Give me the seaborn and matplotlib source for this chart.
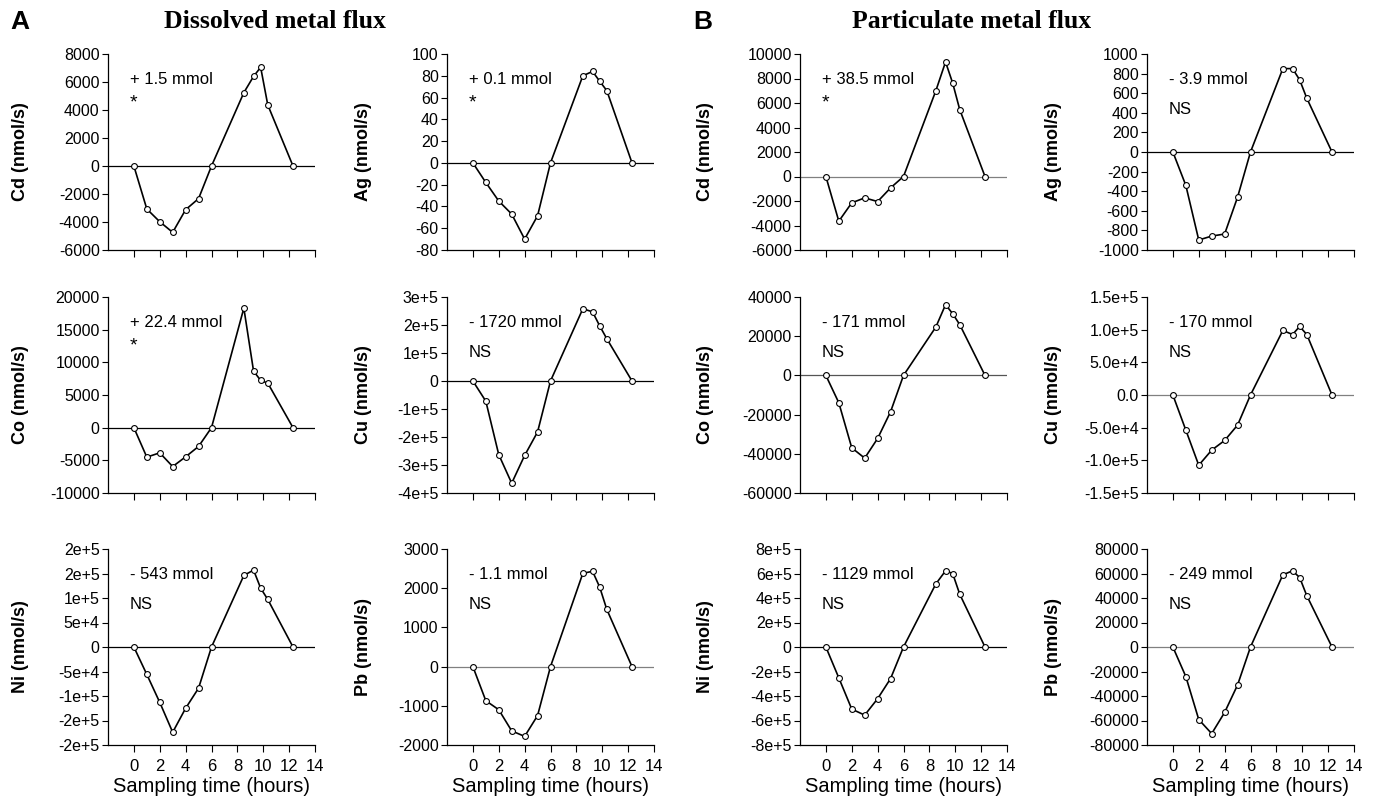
#%% imports
import matplotlib
matplotlib.use("Agg")
import matplotlib.pyplot as plt
import seaborn as sns

#%% dados
horas = [0, 1, 2, 3, 4, 5, 6, 8.5, 9.25, 9.8, 10.35, 12.3]

# dissolvido
cd_dis = [0, -3070, -3980, -4740, -3120, -2330, 0, 5240, 6400, 7050, 4360, 0]
ag_dis = [0, -18, -35, -47, -70, -48.6, 0, 80, 84, 75, 66.4, 0]
co_dis = [0, -4510, -3850, -5950, -4460, -2870, 0, 18300, 8670, 7230, 6820, 0]
cu_dis = [0, -72000, -263000, -365000, -266000, -182000, 0, 258000, 247000, 197000, 151000, 0]
ni_dis = [0, -56000, -113000, -174000, -125000, -84000, 0, 146000, 157000, 120000, 97000, 0]
pb_dis = [0, -870, -1100, -1640, -1780, -1250, 0, 2380, 2430, 2030, 1460, 0]

# particulado
cd_part = [0, -3650, -2150, -1745, -2045, -930, 0, 7000, 9350, 7630, 5450, 0]
ag_part = [0, -340, -898, -858, -837, -461, 0, 851, 851, 736, 549, 0]
co_part = [0, -13960, -36940, -42210, -32170, -18550, 0, 24680, 36080, 31490, 25870, 0]
cu_part = [0, -53700, -107500, -84400, -69600, -46100, 0, 98800, 92600, 104900, 92600, 0]
ni_part = [0, -252000, -507000, -556000, -422000, -258000, 0, 515000, 622000, 600000, 430000, 0]
pb_part = [0, -24100, -59200, -70700, -53400, -31000, 0, 58900, 62200, 56700, 41900, 0]

metais = ['Cd', 'Ag', 'Cd', 'Ag',
          'Co', 'Cu', 'Co', 'Cu',
          'Ni', 'Pb', 'Ni', 'Pb']
series = [cd_dis, ag_dis, cd_part, ag_part,
          co_dis, cu_dis, co_part, cu_part,
          ni_dis, pb_dis, ni_part, pb_part]
totais = ['+ 1.5 mmol', '+ 0.1 mmol', '+ 38.5 mmol', '- 3.9 mmol',
          '+ 22.4 mmol', '- 1720 mmol', '- 171 mmol', '- 170 mmol',
          '- 543 mmol', '- 1.1 mmol', '- 1129 mmol', '- 249 mmol']
signif = ['*', '*', '*', 'NS',
          '*', 'NS', 'NS', 'NS',
          'NS', 'NS', 'NS', 'NS']

# ticks do eixo y de cada painel
yticks = [
    [-6000, -4000, -2000, 0, 2000, 4000, 6000, 8000],
    [-80, -60, -40, -20, 0, 20, 40, 60, 80, 100],
    [-6000, -4000, -2000, 0, 2000, 4000, 6000, 8000, 10000],
    [-1000, -800, -600, -400, -200, 0, 200, 400, 600, 800, 1000],
    [-10000, -5000, 0, 5000, 10000, 15000, 20000],
    [-4e5, -3e5, -2e5, -1e5, 0, 1e5, 2e5, 3e5],
    [-60000, -40000, -20000, 0, 20000, 40000],
    [-1.5e5, -1e5, -5e4, 0, 5e4, 1e5, 1.5e5],
    [-2e5, -1.5e5, -1e5, -5e4, 0, 5e4, 1e5, 1.5e5, 2e5],
    [-2000, -1000, 0, 1000, 2000, 3000],
    [-8e5, -6e5, -4e5, -2e5, 0, 2e5, 4e5, 6e5, 8e5],
    [-80000, -60000, -40000, -20000, 0, 20000, 40000, 60000, 80000],
]
ytick_labels = {
    5: ['-4e+5', '-3e+5', '-2e+5', '-1e+5', '0', '1e+5', '2e+5', '3e+5'],
    7: ['-1.5e+5', '-1.0e+5', '-5.0e+4', '0.0', '5.0e+4', '1.0e+5', '1.5e+5'],
    8: ['-2e+5', '-2e+5', '-1e+5', '-5e+4', '0', '5e+4', '1e+5', '2e+5', '2e+5'],
    10: ['-8e+5', '-6e+5', '-4e+5', '-2e+5', '0', '2e+5', '4e+5', '6e+5', '8e+5'],
}
xticks = [0, 2, 4, 6, 8, 10, 12, 14]

#%% layout (pixels da figura 1376x810)
W, H = 1376, 810
col_left = [108, 447, 800, 1147]
col_w = 207
row_top = [54, 297, 549]
row_h = 196
ylabel_x = [-0.38, -0.36, -0.415, -0.41]
zero_cor = ['black', 'black', 'gray', 'black',
            'black', 'black', '#555555', 'gray',
            'black', 'gray', 'black', 'gray']

sns.set_style("ticks")
plt.rcParams['font.family'] = ['Liberation Sans', 'DejaVu Sans']
plt.rcParams['text.color'] = 'black'
plt.rcParams['axes.labelcolor'] = 'black'
plt.rcParams['xtick.color'] = 'black'
plt.rcParams['ytick.color'] = 'black'

fig = plt.figure(figsize=(W / 100, H / 100), dpi=100)

for i in range(12):
    lin, col = divmod(i, 4)
    ax = fig.add_axes([col_left[col] / W, 1 - (row_top[lin] + row_h) / H,
                       col_w / W, row_h / H])
    ax.axhline(0, color=zero_cor[i], lw=0.9, zorder=1)
    sns.lineplot(x=horas, y=series[i], ax=ax, color='black', lw=1.2,
                 marker='o', markersize=4.2, markerfacecolor='white',
                 markeredgecolor='black', markeredgewidth=0.8, zorder=3)
    ax.set_xlim(-2, 14)
    ax.set_ylim(yticks[i][0], yticks[i][-1])
    ax.set_xticks(xticks)
    ax.set_yticks(yticks[i])
    if i in ytick_labels:
        ax.set_yticklabels(ytick_labels[i])
    else:
        ax.set_yticklabels([str(int(v)) for v in yticks[i]])
    sns.despine(ax=ax)
    ax.tick_params(axis='y', labelsize=11.5, length=4, width=0.8, pad=2)
    ax.tick_params(axis='x', labelsize=12, length=5, width=0.8, pad=5)
    for s in ['left', 'bottom']:
        ax.spines[s].set_linewidth(0.9)
        ax.spines[s].set_color('black')
    if lin == 2:
        ax.set_xlabel('Sampling time (hours)', fontsize=14.5, labelpad=2.5)
    else:
        ax.set_xticklabels([])
    ax.set_ylabel(f'{metais[i]} (nmol/s)', fontsize=13, fontweight='bold')
    ax.yaxis.set_label_coords(ylabel_x[col], 0.5)
    ax.text(0.105, 0.87, totais[i], transform=ax.transAxes, fontsize=12, va='center')
    if signif[i] == '*':
        ax.text(0.105, 0.75, '*', transform=ax.transAxes, fontsize=14, va='center')
    else:
        ax.text(0.105, 0.715, 'NS', transform=ax.transAxes, fontsize=12, va='center')

# titulos dos blocos
fig.text(10 / W, 1 - 22 / H, 'A', fontsize=19, fontweight='bold', va='center')
fig.text(693 / W, 1 - 22 / H, 'B', fontsize=19, fontweight='bold', va='center')
fig.text(275 / W, 1 - 22 / H, 'Dissolved metal flux', fontsize=18.5, fontweight='bold',
         family='Liberation Serif', ha='center', va='center')
fig.text(972 / W, 1 - 22 / H, 'Particulate metal flux', fontsize=18.5, fontweight='bold',
         family='Liberation Serif', ha='center', va='center')

fig.savefig('out.png', dpi=100, facecolor='white')
